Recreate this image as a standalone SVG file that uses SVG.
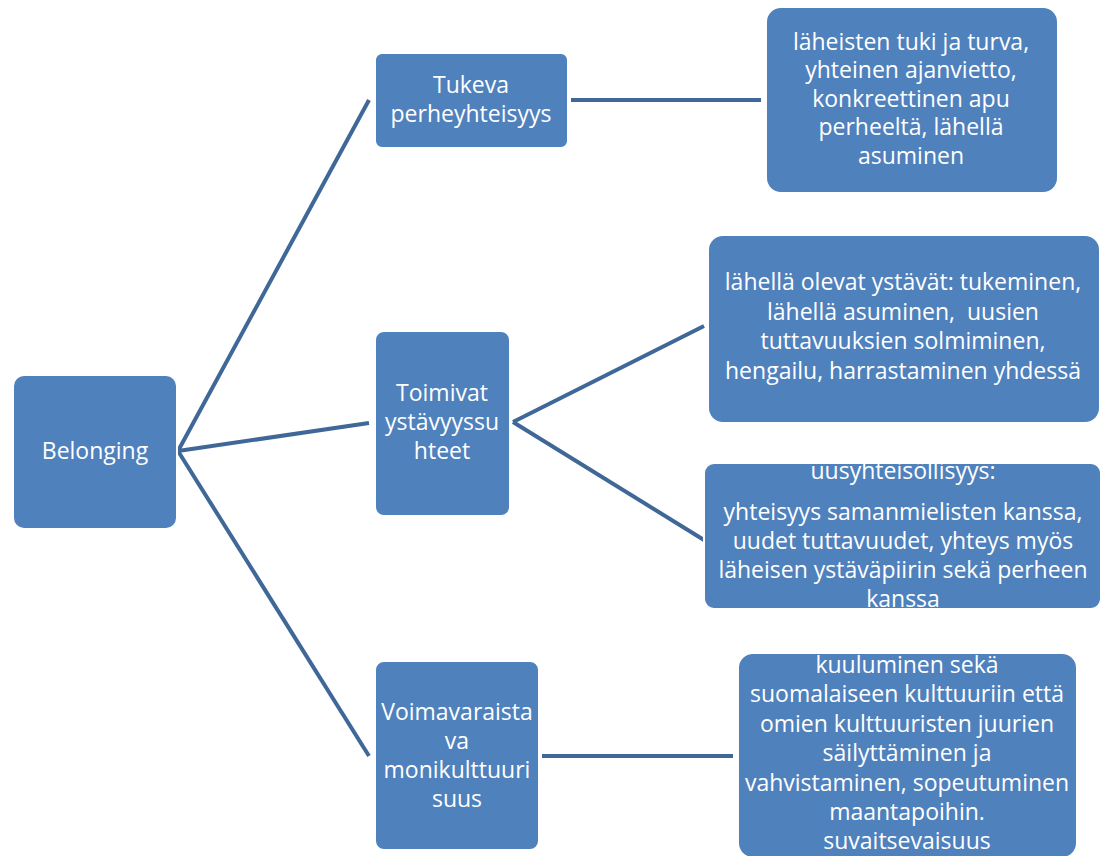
<svg xmlns="http://www.w3.org/2000/svg" width="1100" height="856" viewBox="0 0 1100 856">
<style>
.box{fill:#4f81bd;stroke:#ffffff;stroke-width:2}
.t{font-family:"Open Sans","Liberation Sans",Arial,sans-serif;font-size:23px;fill:#ffffff;text-anchor:middle;white-space:pre}
.c{stroke:#3f6797;stroke-width:4;fill:none;stroke-linecap:butt}
</style>
<rect width="1100" height="856" fill="#ffffff"/>
<g id="connectors">
<line class="c" x1="178" y1="451" x2="369" y2="100"/>
<line class="c" x1="178" y1="451" x2="369" y2="423"/>
<line class="c" x1="178" y1="451" x2="369" y2="756"/>
<line class="c" x1="571" y1="100" x2="761" y2="100"/>
<line class="c" x1="513" y1="422" x2="704" y2="326"/>
<line class="c" x1="513" y1="422" x2="704" y2="540"/>
<line class="c" x1="542" y1="756" x2="733" y2="756"/>
</g>
<g id="belonging">
<rect class="box" x="13" y="375" width="164" height="154" rx="11"/>
<text class="t" x="95" y="459">Belonging</text>
</g>
<g id="tukeva">
<rect class="box" x="375" y="53" width="193" height="95" rx="7"/>
<text class="t" x="471" y="93">Tukeva</text>
<text class="t" x="471" y="122">perheyhteisyys</text>
</g>
<g id="toimivat">
<rect class="box" x="375" y="331" width="135" height="185" rx="9"/>
<text class="t" x="442" y="401">Toimivat</text>
<text class="t" x="442" y="430">ystävyyssu</text>
<text class="t" x="442" y="459">hteet</text>
</g>
<g id="voimavaraista">
<rect class="box" x="375" y="661" width="164" height="189" rx="9"/>
<text class="t" x="457" y="720">Voimavaraista</text>
<text class="t" x="457" y="749">va</text>
<text class="t" x="457" y="778">monikulttuuri</text>
<text class="t" x="457" y="807">suus</text>
</g>
<g id="box-a">
<rect class="box" x="766" y="7" width="292" height="186" rx="15"/>
<text class="t" x="911" y="50">läheisten tuki ja turva,</text>
<text class="t" x="911" y="78">yhteinen ajanvietto,</text>
<text class="t" x="911" y="107">konkreettinen apu</text>
<text class="t" x="911" y="135">perheeltä, lähellä</text>
<text class="t" x="911" y="164">asuminen</text>
</g>
<g id="box-b">
<rect class="box" x="708" y="235" width="392" height="188" rx="15"/>
<text class="t" x="903" y="290">lähellä olevat ystävät: tukeminen,</text>
<text class="t" x="903" y="320">lähellä asuminen,  uusien</text>
<text class="t" x="903" y="349">tuttavuuksien solmiminen,</text>
<text class="t" x="903" y="379">hengailu, harrastaminen yhdessä</text>
</g>
<g id="box-c">
<rect class="box" x="704" y="463" width="397" height="146" rx="10"/>
<text class="t" x="903" y="479">uusyhteisöllisyys:</text>
<text class="t" x="903" y="520">yhteisyys samanmielisten kanssa,</text>
<text class="t" x="903" y="549">uudet tuttavuudet, yhteys myös</text>
<text class="t" x="903" y="578">läheisen ystäväpiirin sekä perheen</text>
<text class="t" x="903" y="607">kanssa</text>
</g>
<g id="box-d">
<rect class="box" x="738" y="653" width="339" height="205" rx="15"/>
<text class="t" x="907" y="673">kuuluminen sekä</text>
<text class="t" x="907" y="702">suomalaiseen kulttuuriin että</text>
<text class="t" x="907" y="732">omien kulttuuristen juurien</text>
<text class="t" x="907" y="761">säilyttäminen ja</text>
<text class="t" x="907" y="791">vahvistaminen, sopeutuminen</text>
<text class="t" x="907" y="820">maantapoihin.</text>
<text class="t" x="907" y="849">suvaitsevaisuus</text>
</g>
</svg>
